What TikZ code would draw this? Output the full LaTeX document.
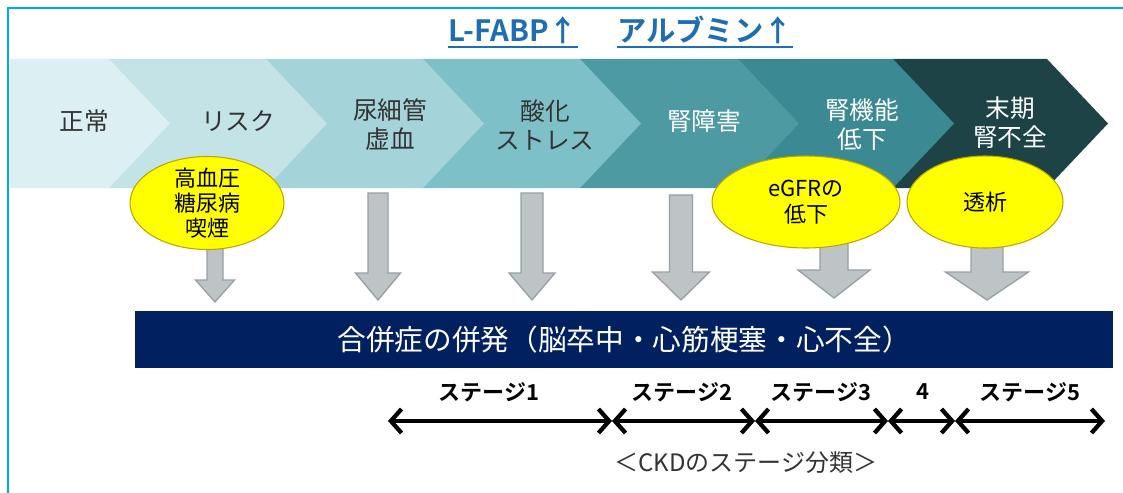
\documentclass[tikz,border=0pt]{standalone}
\usepackage{fontspec}
\setmainfont{Noto Sans CJK JP}[BoldFont={Noto Sans CJK JP Bold}]
\usetikzlibrary{shapes.geometric,arrows.meta}
\definecolor{frameblue}{RGB}{0,170,235}
\definecolor{titleblue}{RGB}{31,110,180}
\definecolor{cA}{RGB}{220,239,242}
\definecolor{cB}{RGB}{196,227,231}
\definecolor{cC}{RGB}{164,211,217}
\definecolor{cD}{RGB}{126,192,200}
\definecolor{cE}{RGB}{77,154,163}
\definecolor{cF}{RGB}{59,137,146}
\definecolor{cG}{RGB}{29,67,70}
\definecolor{navy}{RGB}{0,32,96}
\definecolor{gfill}{RGB}{190,195,198}
\definecolor{gline}{RGB}{150,160,165}
\definecolor{yel}{RGB}{255,255,0}
\definecolor{yelline}{RGB}{190,165,0}
\definecolor{darktext}{RGB}{51,51,51}
\newcommand\chevshape[3]{%
  \fill[#1] (#2,59) -- (#3,59) -- (#3+61,123.5) -- (#3,188) -- (#2,188) -- cycle;}
\newcommand\grayarrow[6]{%
  \filldraw[grayarr] (#1-#3/2,#2) -- (#1-#3/2,#5) -- (#1-#4/2,#5) -- (#1,#6)
    -- (#1+#4/2,#5) -- (#1+#3/2,#5) -- (#1+#3/2,#2) -- cycle;}
\begin{document}
\begin{tikzpicture}[x=0.75pt,y=-0.75pt,
  chevtext/.style={font=\fontsize{18.5pt}{21.75pt}\selectfont, align=center, inner sep=0pt},
  darkt/.style={chevtext, text=darktext},
  lightt/.style={chevtext, text=white},
  yellow ellipse/.style={ellipse, fill=yel, draw=yelline, line width=0.8pt, inner sep=0pt},
  elltext/.style={font=\fontsize{16.5pt}{19pt}\selectfont, align=center, inner sep=0pt, text=black},
  grayarr/.style={fill=gfill, draw=gline, line width=1pt, line join=miter},
  titletext/.style={font=\bfseries\fontsize{22pt}{25pt}\selectfont, text=titleblue, inner sep=0pt, anchor=base},
  stagelabel/.style={font=\bfseries\fontsize{16.5pt}{19pt}\selectfont, inner sep=0pt},
  stagearrow/.style={line width=3.2pt, {Straight Barb[length=8pt,width=18pt]}-{Straight Barb[length=8pt,width=18pt]}}
]
\useasboundingbox (0,0) rectangle (1123,492);
\fill[white] (0,0) rectangle (1123,492);
% frame
\draw[frameblue, line width=2pt] (1125,8) -- (8,8) -- (8,494);
% title
\node[titletext] (t1) at (513,42) {L-FABP↑};
\node[titletext] (t2) at (705,42) {アルブミン↑};
\draw[titleblue, line width=1.6pt] ([yshift=-4pt]t1.base west) -- ([yshift=-4pt]t1.base east);
\draw[titleblue, line width=1.6pt] ([yshift=-4pt]t2.base west) -- ([yshift=-4pt]t2.base east);
% chevrons (right to left)
\fill[cG] (893,59) -- (1047,59) -- (1108,123.5) -- (1047,188) -- (893,188) -- cycle;
\chevshape{cF}{738}{893}
\chevshape{cE}{580}{738}
\chevshape{cD}{423}{580}
\chevshape{cC}{266}{423}
\chevshape{cB}{109}{266}
\chevshape{cA}{10}{109}
% chevron texts
\node[darkt] (n1) at (84,121) {正常};
\node[darkt] (n2) at (238,121) {リスク};
\node[darkt] (n3) at (390,124.5) {尿細管\\虚血};
\node[darkt] (n4) at (545,124.5) {酸化\\ストレス};
\node[lightt] (n5) at (704,121) {腎障害};
\node[lightt] (n6) at (862,124.5) {腎機能\\低下};
\node[lightt] (n7) at (1010,123) {末期\\腎不全};
% gray arrows
\grayarrow{215}{235}{16}{39}{280}{302}
\grayarrow{378}{193}{20}{45}{273}{300}
\grayarrow{532}{193}{22}{46}{273}{300}
\grayarrow{681}{195}{23}{57}{272}{300}
\grayarrow{834}{235}{28}{72}{270}{298}
\grayarrow{987}{235}{32}{83}{272}{300}
% ellipses
\node[yellow ellipse, minimum width=115.5pt, minimum height=69.75pt] (e1) at (207,203) {};
\node[elltext] (e1t) at (e1.center) {高血圧\\糖尿病\\喫煙};
\node[yellow ellipse, minimum width=141pt, minimum height=69pt] (e2) at (806,202) {};
\node[elltext] (e2t) at (e2.center) {eGFRの\\低下};
\node[yellow ellipse, minimum width=117pt, minimum height=69pt] (e3) at (985,202) {};
\node[elltext] (e3t) at (e3.center) {透析};
% navy box
\node[fill=navy, minimum width=733.5pt, minimum height=42.75pt, inner sep=0pt,
      text=white, font=\fontsize{21.5pt}{24pt}\selectfont] (box) at (624,339.5)
      {合併症の併発（脳卒中・心筋梗塞・心不全）};
% stage arrows
\coordinate (s0) at (388,421);
\coordinate (s1) at (612,421);
\coordinate (s2) at (755,421);
\coordinate (s3) at (888,421);
\coordinate (s4) at (955,421);
\coordinate (s5) at (1105,421);
\draw[stagearrow] (s0) -- (s1);
\draw[stagearrow] (s1) -- (s2);
\draw[stagearrow] (s2) -- (s3);
\draw[stagearrow] (s3) -- (s4);
\draw[stagearrow] (s4) -- (s5);
\node[stagelabel] (l1) at (489,392) {ステージ1};
\node[stagelabel] (l2) at (682,392) {ステージ2};
\node[stagelabel] (l3) at (821,392) {ステージ3};
\node[stagelabel] (l4) at (923,392) {4};
\node[stagelabel] (l5) at (1030,392) {ステージ5};
\node[inner sep=0pt, font=\fontsize{18pt}{21pt}\selectfont, text=darktext] (ckd) at (746,463) {＜CKDのステージ分類＞};
\end{tikzpicture}
\end{document}
